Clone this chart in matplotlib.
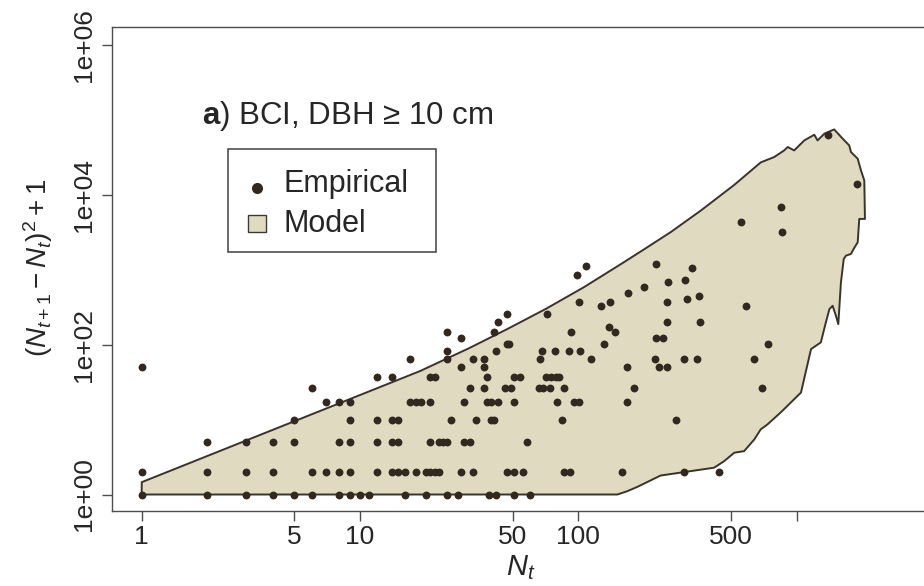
import matplotlib
matplotlib.use('Agg')
import matplotlib.pyplot as plt
from matplotlib.patches import Polygon, Rectangle
from matplotlib.lines import Line2D
import numpy as np

plt.rcParams['font.family'] = ['Liberation Sans', 'DejaVu Sans']
plt.rcParams['mathtext.fontset'] = 'custom'
plt.rcParams['mathtext.rm'] = 'Liberation Sans'
plt.rcParams['mathtext.it'] = 'Liberation Sans:italic'
plt.rcParams['mathtext.bf'] = 'Liberation Sans:bold'

# ---------------- data ----------------
# Empirical points: N_t and (N_{t+1}-N_t)^2 + 1
emp_N = [1, 2, 3, 4, 5, 6, 8, 9, 10, 11, 16, 20, 25, 28, 39, 42, 51, 60,
         1, 2, 3, 4, 6, 7, 8, 9, 12, 14, 15, 16, 18, 20, 21, 22, 23, 29, 33, 47, 51, 56, 86, 92, 158, 304, 441,
         2, 3, 4, 5, 8, 9, 12, 14, 15, 21, 23, 24, 25, 30, 32, 58,
         5, 9, 12, 14, 15, 26, 34, 40, 41, 84, 279,
         7, 8, 9, 17, 18, 19, 21, 30, 38, 40, 43, 51, 80, 96, 101, 167,
         6, 32, 37, 46, 49, 66, 69, 74, 86, 180, 691,
         12, 14, 21, 22, 38, 51, 54, 71, 75, 79, 82,
         1, 29, 37, 167, 234, 254,
         17, 25, 33, 37, 67, 114, 224, 304, 350, 637,
         25, 42, 68, 78, 91, 102,
         47, 48, 131, 738,
         29, 228, 245,
         25, 41, 93, 148,
         138,
         43, 254, 361,
         47, 72,
         108, 99, 228, 330, 258, 308, 200, 169, 101, 127, 140, 254, 315, 357, 585,
         1392, 1891, 847, 555, 853]
emp_Y = [1] * 18 + \
        [2] * 27 + \
        [5] * 16 + \
        [10] * 11 + \
        [17] * 16 + \
        [26] * 11 + \
        [37] * 11 + \
        [50] * 6 + \
        [65] * 10 + \
        [82] * 6 + \
        [101] * 4 + \
        [122] * 3 + \
        [145] * 4 + \
        [170] + \
        [197] * 3 + \
        [257] * 2 + \
        [1107, 855, 1188, 1041, 683, 733, 580, 491, 369, 326, 369, 369, 405, 448, 326,
         63000, 13900, 6870, 4330, 3184]

# Model envelope, traced clockwise: upper edge, jagged right end, lower edge
model_upper_N = [1, 1, 18.9, 31.6, 47.2, 70.8, 105.7, 158, 200, 265, 365, 518, 685, 789,
                 877, 910, 975, 1084, 1205, 1247, 1340, 1486, 1626, 1742, 1774, 1905,
                 1972, 2042]
model_upper_Y = [1, 1.46, 44.5, 89.5, 160.7, 298, 579, 1202, 1862, 3162, 6166, 13490,
                 26920, 31700, 38900, 43150, 38900, 52840, 62950, 52840, 65010, 74130,
                 55720, 45290, 36980, 30130, 20990, 15450]
model_right_N = [2056, 1936, 1905, 1824, 1774, 1683, 1644, 1596, 1552, 1514, 1462, 1413,
                 1361, 1291, 1164, 1047, 847, 736]
model_right_Y = [4742, 4742, 2317, 1884, 1618, 1535, 1387, 676, 187.5, 242, 329, 297,
                 197, 107, 86.9, 22.9, 12.5, 8.63]
model_lower_N = [685, 640, 575, 518, 466, 419, 305, 238, 187, 168, 151, 1]
model_lower_Y = [7.40, 5.43, 3.79, 3.61, 2.79, 2.28, 1.99, 1.79, 1.27, 1.11, 1, 1]

x_ticks = [1, 5, 10, 50, 100, 500, 1000]
x_tick_labels = ['1', '5', '10', '50', '100', '500', '']
y_ticks = [1, 100, 1e4, 1e6]
y_tick_labels = ['1e+00', '1e+02', '1e+04', '1e+06']

# ---------------- figure ----------------
W, H = 924, 586
fig = plt.figure(figsize=(W / 100, H / 100), dpi=100)
L, R, T, B = 112.3, 930.0, 26.7, 511.0
ax = fig.add_axes([L / W, 1 - B / H, (R - L) / W, (B - T) / H])
ax.set_xscale('log')
ax.set_yscale('log')
ax.set_xlim(10 ** -0.1347, 10 ** 3.611)
ax.set_ylim(10 ** -0.22, 10 ** 6.24)

fill_c = '#E0DBC0'
edge_c = '#3a332c'
dot_c = '#33281f'
spine_c = '#4d4d4d'
text_c = '#262626'

poly_N = model_upper_N + model_right_N + model_lower_N
poly_Y = model_upper_Y + model_right_Y + model_lower_Y
ax.add_patch(Polygon(np.column_stack([poly_N, poly_Y]), closed=True,
                     facecolor=fill_c, edgecolor=edge_c, lw=1.4, zorder=2,
                     joinstyle='round'))
ax.scatter(emp_N, emp_Y, s=32, color=dot_c, linewidths=0, zorder=3)

for s in ax.spines.values():
    s.set_color(spine_c)
    s.set_linewidth(1.0)

ax.set_xticks(x_ticks)
ax.set_xticklabels(x_tick_labels)
ax.set_yticks(y_ticks)
ax.set_yticklabels(y_tick_labels, rotation=90, va='center')
ax.minorticks_off()
ax.tick_params(direction='out', length=7, width=1.0, color=spine_c,
               labelsize=19, labelcolor=text_c)
ax.tick_params(axis='x', pad=3)
ax.tick_params(axis='y', pad=5)


def fx(px):
    return px / W


def fy(py):
    return 1 - py / H


fig.text(fx(38), fy(268), r'$(N_{t+1}-N_t)^2+1$', rotation=90, ha='center', va='center',
         fontsize=20, color=text_c)
fig.text(fx(521), fy(568), r'$N_t$', ha='center', va='center', fontsize=21, color=text_c)

fig.text(fx(202), fy(116), r'$\mathbf{a}$) BCI, DBH ≥ 10 cm', ha='left', va='center',
         fontsize=22.5, color=text_c)

# legend box
lx0, ly0, lx1, ly1 = 228.3, 149.3, 436.0, 252.0
fig.add_artist(Rectangle((fx(lx0), fy(ly1)), (lx1 - lx0) / W, (ly1 - ly0) / H,
                         transform=fig.transFigure, facecolor='white', edgecolor='#404040',
                         lw=1.1, zorder=5))
fig.add_artist(Line2D([fx(257)], [fy(188)], marker='o', ms=8, color=dot_c, mew=0,
                      transform=fig.transFigure, zorder=6))
sq = 17
fig.add_artist(Rectangle((fx(257 - sq / 2), fy(223 + sq / 2)), sq / W, sq / H,
                         transform=fig.transFigure, facecolor=fill_c, edgecolor='#3a3a3a',
                         lw=1.0, zorder=6))
fig.text(fx(283), fy(184), 'Empirical', ha='left', va='center', fontsize=22, color=text_c,
         zorder=7)
fig.text(fx(283), fy(224), 'Model', ha='left', va='center', fontsize=22, color=text_c,
         zorder=7)

fig.savefig('out.png', dpi=100)
